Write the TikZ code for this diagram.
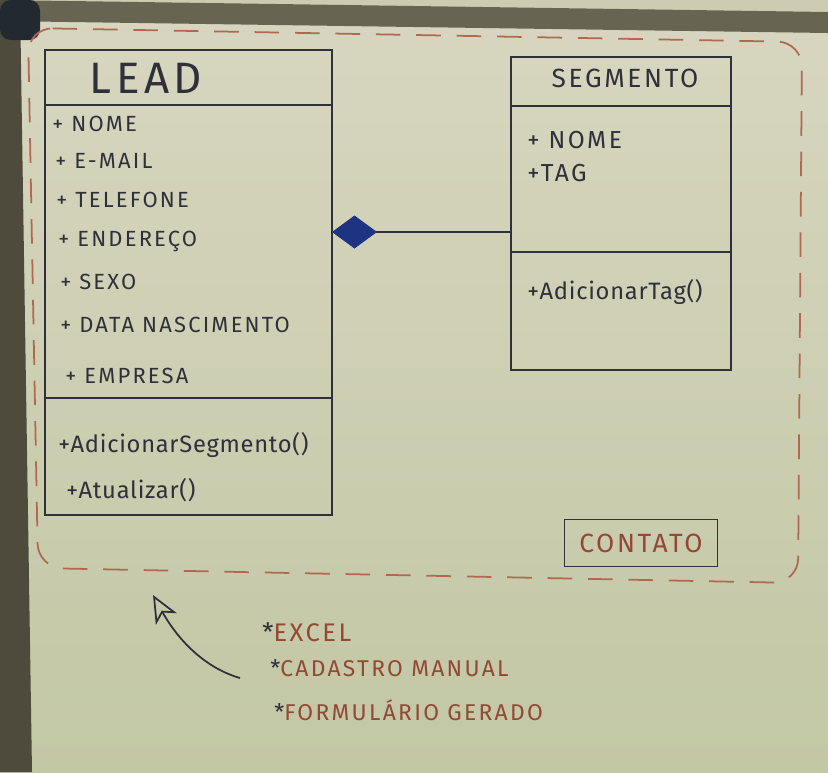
\documentclass[tikz,border=0pt]{standalone}
\usepackage{fontspec}
\setmainfont{Fira Sans}[LetterSpace=10]
\newfontfamily\methodfont{Fira Sans}[LetterSpace=3]
\usetikzlibrary{arrows.meta,fit}

\definecolor{boardtop}{RGB}{216,214,192}
\definecolor{boardbot}{RGB}{194,199,164}
\definecolor{wall}{RGB}{206,204,176}
\definecolor{framegray}{RGB}{104,100,82}
\definecolor{framedark}{RGB}{34,42,48}
\definecolor{pen}{RGB}{48,48,58}
\definecolor{redpen}{RGB}{146,72,52}
\definecolor{bluepen}{RGB}{30,52,130}
\definecolor{dashred}{RGB}{176,104,80}

\tikzset{
	classbox/.style={draw=pen,line width=1pt,inner sep=0pt,outer sep=0pt},
	divider/.style={draw=pen,line width=1pt},
	member/.style={anchor=west,inner sep=0pt,text=pen,font=\fontsize{12.5}{14}\selectfont},
	method/.style={member,font=\methodfont\fontsize{13.5}{15}\selectfont},
	classname/.style={inner sep=0pt,text=pen},
	bulletitem/.style={anchor=west,inner sep=0pt,text=redpen,font=\fontsize{13}{15}\selectfont},
	aggregation/.style={draw=pen,line width=0.9pt,-{Diamond[length=0.9cm,width=0.66cm,color=bluepen,fill=bluepen]}},
	hint/.style={draw=pen,line width=1pt,-{Stealth[open,length=5.5mm,width=4.8mm,inset=1.5mm]}}
}

\begin{document}
\begin{tikzpicture}[x=0.02cm,y=-0.02cm]
	\useasboundingbox (0,0) rectangle (828,772);
	% board and frame
	\shade[top color=boardtop,bottom color=boardbot] (0,0) rectangle (828,772);
	\fill[wall] (0,0) -- (828,0) -- (828,12) -- cycle;
	\fill[framegray] (0,0) -- (828,12) -- (828,33) -- (0,21) -- cycle;
	\fill[framegray!75!black] (0,0) -- (20,0) -- (32,772) -- (0,772) -- cycle;
	\fill[framedark,rounded corners=6pt] (0,0) rectangle (40,40);
	\draw[dashred,line width=1pt,dash pattern=on 14pt off 9pt,rounded corners=14pt]
		(28,28) -- (802,42) -- (798,583) -- (38,568) -- cycle;

	% LEAD
	\node[classbox,fit={(45,50) (332,515)}] (lead) {};
	\draw[divider] (lead.north west) ++(0,55) -- ++(287,0);
	\draw[divider] (lead.north west) ++(0,348) -- ++(287,0);
	\node[classname,font=\fontsize{25}{28}\selectfont] (leadname) at (146,78) {LEAD};
	\node[member] (lnome) at (52,124) {+ NOME};
	\node[member] (lemail) at (55,161) {+ E-MAIL};
	\node[member] (ltelefone) at (56,200) {+ TELEFONE};
	\node[member] (lendereco) at (58,241) {+ ENDEREÇO};
	\node[member] (lsexo) at (60,282) {+ SEXO};
	\node[member] (ldata) at (60,325) {+ DATA NASCIMENTO};
	\node[member] (lempresa) at (65,376) {+ EMPRESA};
	\node[method] (laddseg) at (58,445) {+AdicionarSegmento()};
	\node[method] (latual) at (66,490) {+Atualizar()};

	% SEGMENTO
	\node[classbox,fit={(511,57) (731,370)}] (segmento) {};
	\draw[divider] (segmento.north west) ++(0,49) -- ++(220,0);
	\draw[divider] (segmento.north west) ++(0,195) -- ++(220,0);
	\node[classname,font=\fontsize{15}{17}\selectfont] (segname) at (625,78) {SEGMENTO};
	\node[member,font=\fontsize{14}{16}\selectfont] (snome) at (527,140) {+ NOME};
	\node[member,font=\fontsize{14}{16}\selectfont] (stag) at (527,173) {+TAG};
	\node[method] (saddtag) at (527,292) {+AdicionarTag()};

	\coordinate (aggy) at (0,232);
	\draw[aggregation] (segmento.west |- aggy) -- (lead.east |- aggy);

	% CONTATO
	\node[draw=pen,line width=1pt,text=redpen,font=\fontsize{15}{17}\selectfont,
		minimum width=3.06cm,minimum height=0.94cm] (contato) at (641,543) {CONTATO};

	% fontes
	\coordinate (hinttail) at (240,678);
	\coordinate (hinttip) at (153,595);
	\draw[hint] (hinttail) .. controls (205,668) and (178,640) .. (hinttip);
	\node[bulletitem,font=\fontsize{14.5}{16}\selectfont] (excel) at (262,632) {{\color{pen}*}EXCEL};
	\node[bulletitem] (cadastro) at (270,668) {{\color{pen}*}CADASTRO MANUAL};
	\node[bulletitem] (formulario) at (274,710) {{\color{pen}*}FORMULÁRIO GERADO};
\end{tikzpicture}
\end{document}
